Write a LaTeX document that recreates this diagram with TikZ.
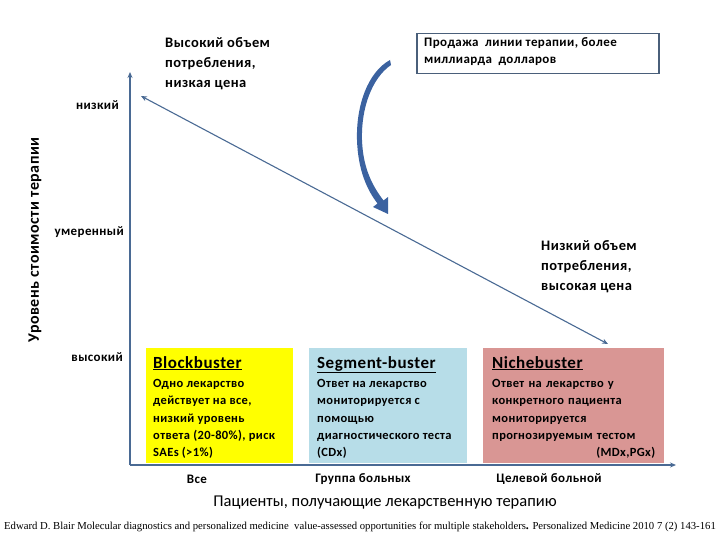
\documentclass[tikz,border=0pt]{standalone}
\usepackage{fontspec}
\setmainfont{Carlito}
\newfontfamily\slidefont[LetterSpace=3]{Carlito Bold}
\newfontfamily\citefont{Liberation Serif}
\usetikzlibrary{arrows.meta}
\definecolor{axisblue}{HTML}{4A6A94}
\definecolor{curveblue}{HTML}{3B62A0}
\definecolor{boxborder}{HTML}{4A5F7A}
\definecolor{bbyellow}{HTML}{FFFF00}
\definecolor{sbblue}{HTML}{B7DDE8}
\definecolor{nbpink}{HTML}{D99694}
\begin{document}
\begin{tikzpicture}[x=1pt,y=-1pt,
  axisline/.style={draw=axisblue,line width=1.3pt},
  tip/.style={-{Stealth[length=6pt,width=5pt]}},
  lbl/.style={inner sep=0pt,font=\slidefont\fontsize{13}{15}\selectfont},
  biglbl/.style={inner sep=0pt,align=left,anchor=north west,font=\slidefont\fontsize{14.5}{20}\selectfont},
  catbox/.style={anchor=north west,minimum height=115pt,inner sep=0pt,text width=#1,align=left},
  boxtext/.style={inner sep=0pt,anchor=north west,align=left,font=\slidefont\fontsize{12.5}{17.3}\selectfont},
]
\useasboundingbox (0,0) rectangle (720,540);
% axes
\coordinate (O) at (130,465);
\coordinate (ytop) at (130,72);
\coordinate (xend) at (676,465);
\draw[axisline,tip] (O) -- (ytop);
\draw[axisline,tip] (O) -- (xend);
% diagonal
\coordinate (dA) at (608,344);
\coordinate (dB) at (141,96);
\draw[axisline,line width=1.1pt,{Stealth[length=6pt,width=5pt]}-{Stealth[length=6pt,width=5pt]}] (dA) -- (dB);
% curved arrow
\fill[curveblue] (390,60) .. controls (368,72) and (356,105) .. (357,140)
  .. controls (358,170) and (367,190) .. (377.5,203.5)
  -- (373,207) -- (388,214) -- (388,197) -- (383.5,200.5)
  .. controls (374,188) and (363,170) .. (362,140)
  .. controls (361,108) and (372,78) .. (391,65) -- cycle;
% top box
\node[draw=boxborder,line width=1.5pt,minimum width=242pt,minimum height=40pt,anchor=north west,inner sep=0pt] (sales) at (416,33) {};
\node[boxtext,font=\slidefont\fontsize{13}{17}\selectfont] (salestext) at (424,37) {Продажа\ \ линии терапии, более\\миллиарда\ \ долларов};
% big labels
\node[biglbl] (hv) at (165,37) {Высокий объем\\потребления,\\низкая цена};
\node[biglbl] (lv) at (541,240) {Низкий объем\\потребления,\\высокая цена};
% axis labels
\node[lbl,anchor=east] (low) at (119,105) {низкий};
\node[lbl,anchor=east] (mid) at (124,232) {умеренный};
\node[lbl,anchor=east] (high) at (123,357) {высокий};
\node[lbl,rotate=90,font=\slidefont\fontsize{16}{18}\selectfont] (ylab) at (35,240) {Уровень стоимости терапии};
% boxes
\node[catbox=147pt,fill=bbyellow] (bb) at (146,348) {};
\node[catbox=158pt,fill=sbblue] (sb) at (309,348) {};
\node[catbox=181pt,fill=nbpink] (nb) at (483,348) {};
\node[boxtext] (bbt) at ([xshift=7pt,yshift=-8pt]bb.north west) {{\fontsize{17}{18}\selectfont\underline{Blockbuster}}\\[2pt]
Одно лекарство\\действует на все,\\низкий уровень\\ответа (20-80\%), риск\\SAEs (>1\%)};
\node[boxtext] (sbt) at ([xshift=8pt,yshift=-8pt]sb.north west) {{\fontsize{17}{18}\selectfont\underline{Segment-buster}}\\[2pt]
Ответ на лекарство\\мониторируется с\\помощью\\диагностического теста\\(CDx)};
\node[boxtext,text width=163pt] (nbt) at ([xshift=9pt,yshift=-8pt]nb.north west) {{\fontsize{17}{18}\selectfont\underline{Nichebuster}}\\[2pt]
Ответ на лекарство у\\конкретного пациента\\мониторируется\\прогнозируемым тестом\\\hspace*{\fill}(MDx,PGx)};
% x labels
\node[lbl] (all) at (197,479) {Все};
\node[lbl] (grp) at (363,479) {Группа больных};
\node[lbl] (tgt) at (549,479) {Целевой больной};
\node[inner sep=0pt,font=\fontsize{16.5}{18}\selectfont] (xlab) at (385,503) {Пациенты, получающие лекарственную терапию};
% citation
\node[inner sep=0pt,font=\citefont\fontsize{10.7}{12}\selectfont] (cite) at (360,527) {Edward D. Blair Molecular diagnostics and personalized medicine\ \ value-assessed opportunities for multiple stakeholders{\bfseries\large.} Personalized Medicine 2010 7 (2) 143-161};
\end{tikzpicture}
\end{document}
